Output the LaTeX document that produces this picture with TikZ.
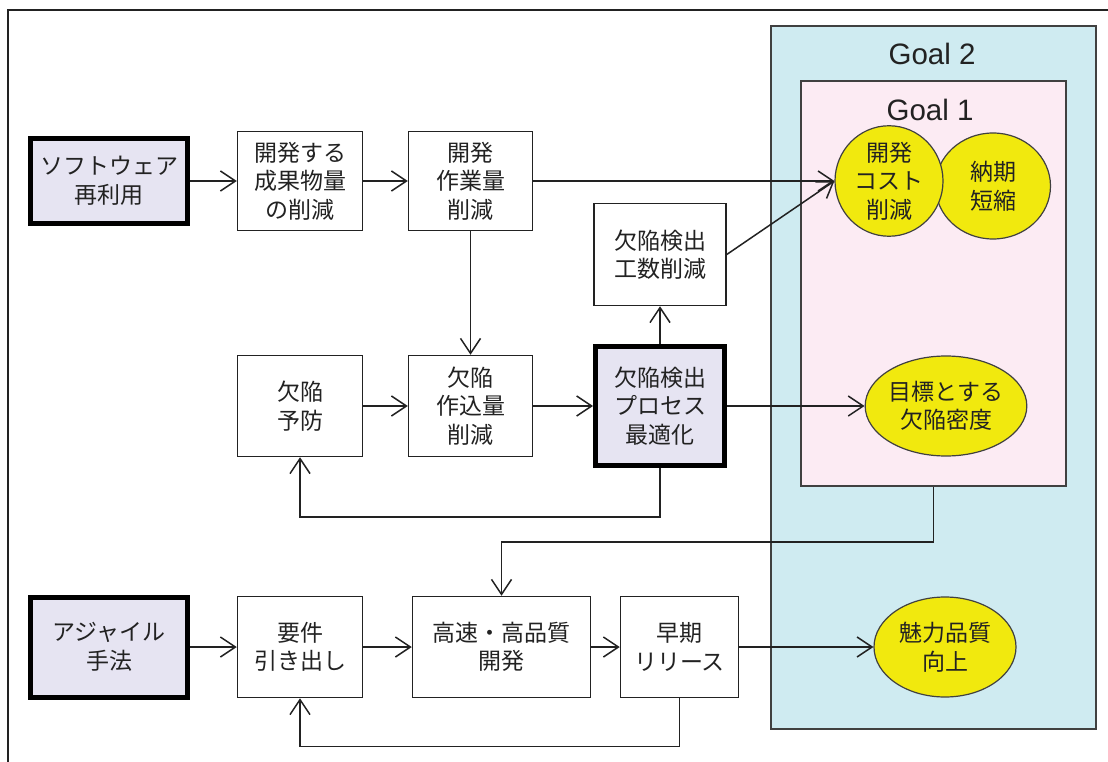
\documentclass[tikz,border=0pt]{standalone}
\usepackage{fontspec}
\setmainfont{Liberation Sans}
\newfontfamily\jp{Noto Sans CJK JP}
\usetikzlibrary{arrows.meta,shapes.geometric,calc}
\definecolor{lav}{RGB}{230,228,242}
\definecolor{goaltwo}{RGB}{207,235,241}
\definecolor{goalone}{RGB}{252,235,243}
\definecolor{ellyellow}{RGB}{241,233,14}
\definecolor{ink}{RGB}{34,34,34}
\tikzset{
  jpt/.style={font=\jp\fontsize{23}{28.5}\selectfont, text=ink, align=center, inner sep=0pt},
  plainbox/.style={jpt, rectangle, draw=ink, line width=1.5pt, fill=white},
  keybox/.style={jpt, rectangle, draw=black, line width=5pt, fill=lav},
  goalell/.style={jpt, ellipse, draw=black!75, line width=1.2pt, fill=ellyellow},
  conn/.style={-{Straight Barb[length=15pt,width=20pt]}, line width=1.5pt, draw=ink},
  goalbox/.style={rectangle, draw=black!75, line width=2pt, inner sep=0pt},
  goaltxt/.style={font=\fontsize{29.5}{30}\selectfont, text=ink, inner sep=0pt},
}
\begin{document}
\begin{tikzpicture}[x=1pt,y=-1pt]
\useasboundingbox (0,0) rectangle (1108,762);
\fill[white] (0,0) rectangle (1108,762);
% outer frame (cropped)
\draw[line width=1.8pt, draw=ink] (1108,10) -- (8,10) -- (8,762);

% goal regions
\node[goalbox, fill=goaltwo, minimum width=325pt, minimum height=703pt] (g2) at (933.5,377.5) {};
\node[goalbox, fill=goalone, minimum width=265pt, minimum height=405pt] (g1) at (933.5,283.5) {};
\node[goaltxt] (g2t) at (932,54) {Goal 2};
\node[goaltxt] (g1t) at (930,110) {Goal 1};

% goal ellipses
\node[goalell, minimum width=115pt, minimum height=106pt] (nouki) at (993,186) {納期\\短縮};
\node[goalell, minimum width=108pt, minimum height=100pt] (cost) at (889,181) {開発\\コスト\\削減};
\node[goalell, minimum width=150pt, minimum height=100pt] (mitsudo) at (946,406) {目標とする\\欠陥密度};
\node[goalell, minimum width=142pt, minimum height=100pt] (miryoku) at (945,647) {魅力品質\\向上};

% row 1
\node[keybox, minimum width=157pt, minimum height=85pt] (reuse) at (109,181) {ソフトウェア\\再利用};
\node[plainbox, minimum width=125pt, minimum height=99pt] (seika) at (300,181) {開発する\\成果物量\\の削減};
\node[plainbox, minimum width=124pt, minimum height=99pt] (sagyo) at (470.5,181) {開発\\作業量\\削減};
\node[plainbox, minimum width=132pt, minimum height=102pt] (kosu) at (660,254.5) {欠陥検出\\工数削減};

% row 2
\node[plainbox, minimum width=125pt, minimum height=101pt] (yobo) at (300,406) {欠陥\\予防};
\node[plainbox, minimum width=124pt, minimum height=101pt] (tsuku) at (470.5,406) {欠陥\\作込量\\削減};
\node[keybox, minimum width=129pt, minimum height=119pt] (opt) at (660,406) {欠陥検出\\プロセス\\最適化};

% row 3
\node[keybox, minimum width=157pt, minimum height=100pt] (agile) at (109,647) {アジャイル\\手法};
\node[plainbox, minimum width=125pt, minimum height=101pt] (req) at (300,647) {要件\\引き出し};
\node[plainbox, minimum width=178pt, minimum height=101pt] (fast) at (501.5,647) {高速・高品質\\開発};
\node[plainbox, minimum width=118pt, minimum height=101pt] (early) at (679.5,647) {早期\\リリース};

% connectors
\draw[conn] (reuse) -- (seika);
\draw[conn] (seika) -- (sagyo);
\draw[conn] (sagyo.east) -- (cost.west);
\draw[conn] (kosu.east) -- (cost.west);
\draw[conn] (sagyo) -- (tsuku);
\draw[conn] (yobo) -- (tsuku);
\draw[conn] (tsuku) -- (opt);
\draw[conn] (opt) -- (kosu);
\draw[conn] (opt.east) -- (mitsudo.west);
\draw[conn] (opt.south) -- ++(0,49) -| (yobo.south);
\draw[conn] (g1.south) -- ++(0,55) -| (fast.north);
\draw[conn] (agile) -- (req);
\draw[conn] (req) -- (fast);
\draw[conn] (fast) -- (early);
\draw[conn] (early.east) -- (miryoku.west);
\draw[conn] (early.south) -- ++(0,48) -| (req.south);
\end{tikzpicture}
\end{document}
